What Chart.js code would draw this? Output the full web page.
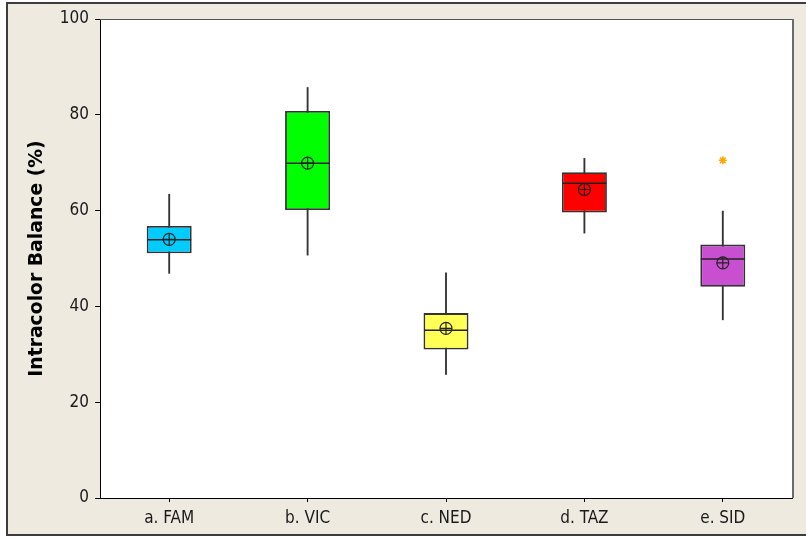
<!DOCTYPE html>
<html>
<head>
<meta charset="utf-8">
<title>Intracolor Balance</title>
<script src="https://cdn.jsdelivr.net/npm/chart.js@4.4.0/dist/chart.umd.min.js"></script>
<style>
  html, body { margin: 0; padding: 0; background: #fff; overflow: hidden; }
  #frame {
    position: absolute; left: 6px; top: 2px; width: 900px; height: 530px;
    border: 2px solid #3c3c3c; background: #eeeae0;
  }
  #boxChart { position: absolute; left: 0; top: 0; }
</style>
</head>
<body>
<div id="frame"></div>
<canvas id="boxChart" width="806" height="540"></canvas>
<script>
// Datos de cada grupo (%)
const categories = ['a. FAM', 'b. VIC', 'c. NED', 'd. TAZ', 'e. SID'];
const whiskerLow = [46.9, 50.7, 25.8, 55.3, 37.2];
const q1 = [51.1, 60.1, 31.0, 59.6, 44.1];
const median = [53.9, 69.9, 35.0, 65.7, 49.9];
const q3 = [56.8, 80.8, 38.6, 68.0, 52.9];
const whiskerHigh = [63.4, 85.7, 47.0, 70.9, 59.9];
const means = [54.0, 69.9, 35.4, 64.4, 49.1];
const outliers = [null, null, null, null, 70.5];
const yTicks = [0, 20, 40, 60, 80, 100];

const boxColors = ['#00ccff', '#00ff00', '#ffff55', '#ff0000', '#c94fd1'];
const tickFont = { family: '"DejaVu Sans Condensed", "Liberation Sans", sans-serif', size: 17 };

// Fondo blanco del área de trazado y bordes superior / derecho
const plotFrame = {
    id: 'plotFrame',
    beforeDraw(chart) {
        const { ctx, chartArea: a } = chart;
        ctx.save();
        ctx.fillStyle = '#ffffff';
        ctx.fillRect(a.left, a.top, a.right - a.left, a.bottom - a.top);
        ctx.restore();
    },
    afterDraw(chart) {
        const { ctx, chartArea: a } = chart;
        ctx.save();
        ctx.strokeStyle = '#555555';
        ctx.lineWidth = 1;
        ctx.beginPath();
        ctx.moveTo(a.left, a.top + 0.5);
        ctx.lineTo(a.right, a.top + 0.5);
        ctx.stroke();
        ctx.strokeStyle = '#6b6b6b';
        ctx.lineWidth = 2;
        ctx.beginPath();
        ctx.moveTo(a.right + 1, a.top);
        ctx.lineTo(a.right + 1, a.bottom);
        ctx.stroke();
        ctx.restore();
    }
};

function renderBoxplot() {
    const ctx = document.getElementById('boxChart').getContext('2d');

    new Chart(ctx, {
        type: 'bar',
        data: {
            labels: categories,
            datasets: [
                {
                    // bigotes
                    data: whiskerLow.map((v, i) => [v, whiskerHigh[i]]),
                    backgroundColor: '#333333',
                    borderWidth: 0,
                    barThickness: 1.2,
                    grouped: false,
                    order: 5
                },
                {
                    // cajas Q1-Q3
                    data: q1.map((v, i) => [v, q3[i]]),
                    backgroundColor: boxColors,
                    borderColor: '#333333',
                    borderWidth: 1.8,
                    borderSkipped: false,
                    barPercentage: 0.5,
                    categoryPercentage: 0.65,
                    grouped: false,
                    order: 4
                },
                {
                    // mediana
                    type: 'line',
                    data: median,
                    showLine: false,
                    pointStyle: 'line',
                    pointRadius: 22,
                    pointBorderColor: '#222222',
                    pointBorderWidth: 1.5,
                    order: 3
                },
                {
                    // media: círculo
                    type: 'line',
                    data: means,
                    showLine: false,
                    pointStyle: 'circle',
                    pointRadius: 6,
                    pointBackgroundColor: 'rgba(0,0,0,0)',
                    pointBorderColor: '#222222',
                    pointBorderWidth: 1.2,
                    order: 2
                },
                {
                    // media: cruz
                    type: 'line',
                    data: means,
                    showLine: false,
                    pointStyle: 'cross',
                    pointRadius: 6,
                    pointBorderColor: '#222222',
                    pointBorderWidth: 1.2,
                    order: 1
                },
                {
                    // valores atípicos
                    type: 'line',
                    data: outliers,
                    showLine: false,
                    pointStyle: 'star',
                    pointRadius: 4,
                    pointBorderColor: '#ffa500',
                    pointBorderWidth: 1.5,
                    order: 0
                }
            ]
        },
        options: {
            responsive: false,
            animation: false,
            events: [],
            layout: { autoPadding: false, padding: { top: 19, right: 14, left: 0, bottom: 0 } },
            plugins: {
                legend: { display: false },
                tooltip: { enabled: false }
            },
            scales: {
                x: {
                    offset: true,
                    grid: {
                        display: true,
                        drawOnChartArea: false,
                        drawTicks: true,
                        tickLength: 4,
                        offset: false,
                        color: '#000000'
                    },
                    border: { display: true, color: '#000000', width: 1 },
                    ticks: { font: tickFont, color: '#1a1a1a', padding: 6 },
                    afterFit(scale) { scale.height = 42; }
                },
                y: {
                    min: 0,
                    max: 100,
                    afterBuildTicks(scale) { scale.ticks = yTicks.map(v => ({ value: v })); },
                    grid: {
                        display: true,
                        drawOnChartArea: false,
                        drawTicks: true,
                        tickLength: 5,
                        color: '#000000'
                    },
                    border: { display: true, color: '#000000', width: 1 },
                    ticks: { font: tickFont, color: '#1a1a1a', padding: 6 },
                    title: {
                        display: true,
                        text: 'Intracolor Balance (%)',
                        color: '#000000',
                        font: { family: '"DejaVu Sans", sans-serif', size: 18.8, weight: 'bold' },
                        padding: { top: 26, bottom: 0 }
                    },
                    afterFit(scale) { scale.width = 100; }
                }
            }
        },
        plugins: [plotFrame]
    });
}

document.addEventListener('DOMContentLoaded', () => {
    renderBoxplot();
});
</script>
</body>
</html>
